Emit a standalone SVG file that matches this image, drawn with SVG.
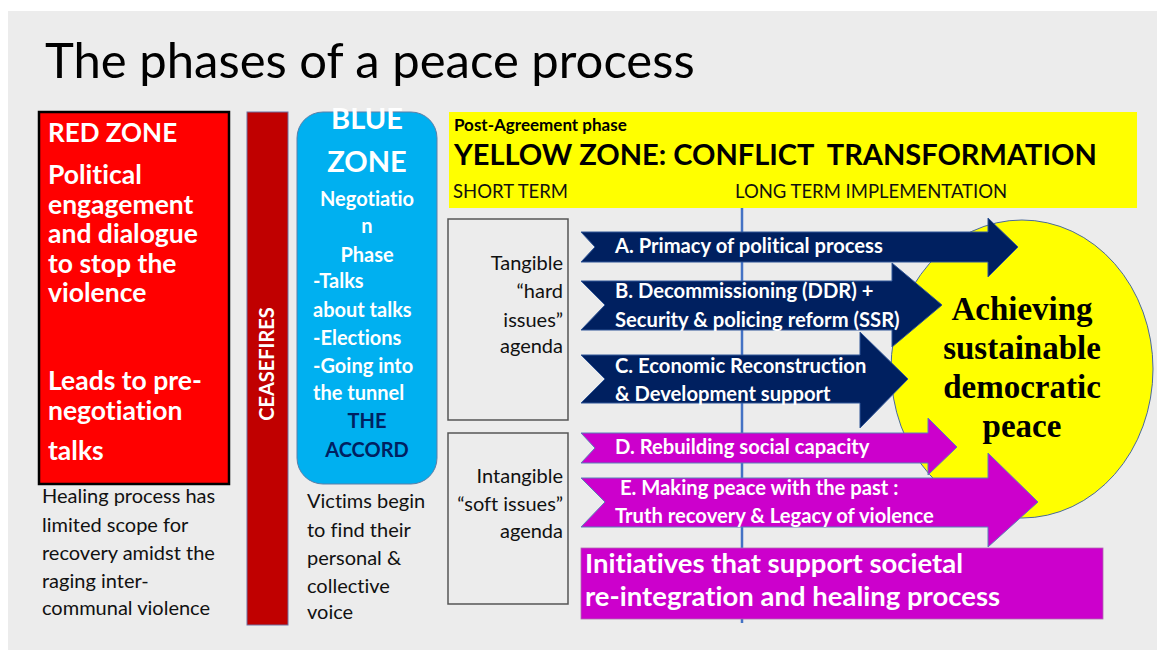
<svg xmlns="http://www.w3.org/2000/svg" width="1165" height="659" viewBox="0 0 1165 659">
<style>
text{font-family:Lato,"Open Sans","DejaVu Sans",sans-serif;font-variant-ligatures:none}
.w{fill:#fff;font-weight:bold}
.rz{font-size:26.5px}
.bz{font-size:20px}
.blk{fill:#111;font-size:20px}
.arr{font-size:20.2px}
.nav{fill:#002060;stroke:#2f5597;stroke-width:1}
.mag{fill:#cc00cc;stroke:#5b7fb8;stroke-width:1}
.circ{font-family:"Liberation Serif","Times New Roman",serif;font-weight:bold;font-size:33px;fill:#000}
</style>
<rect x="0" y="0" width="1165" height="659" fill="#fff"/>
<rect x="8" y="11" width="1149" height="639" fill="#ececec"/>
<text x="45" y="78" font-size="49" fill="#000">The phases of a peace process</text>

<g id="red-zone">
<rect x="39" y="112" width="190" height="372" fill="#ff0000" stroke="#000" stroke-width="2.5"/>
<text class="w" font-size="26" x="48" y="142">RED ZONE</text>
<text class="w rz" x="48" y="184">Political</text>
<text class="w rz" x="48" y="213.5">engagement</text>
<text class="w rz" x="48" y="243">and dialogue</text>
<text class="w rz" x="48" y="272.5">to stop the</text>
<text class="w rz" x="48" y="302">violence</text>
<text class="w rz" x="48" y="390">Leads to pre-</text>
<text class="w rz" x="48" y="420">negotiation</text>
<text class="w rz" x="48" y="460">talks</text>
</g>
<g id="red-note">
<text class="blk" x="42" y="503">Healing process has</text>
<text class="blk" x="42" y="532">limited scope for</text>
<text class="blk" x="42" y="560">recovery amidst the</text>
<text class="blk" x="42" y="588">raging inter-</text>
<text class="blk" x="42" y="615">communal violence</text>
</g>

<g id="ceasefires">
<rect x="247" y="112" width="41" height="513" fill="#c00000" stroke="#6f6f9f" stroke-width="1"/>
<text class="w" font-size="20" text-anchor="middle" transform="translate(274,364) rotate(-90)">CEASEFIRES</text>
</g>

<g id="blue-zone">
<rect x="297" y="112" width="140" height="372" rx="26" ry="26" fill="#00b0f0" stroke="#5b7fa8" stroke-width="1"/>
<text class="w" font-size="29" text-anchor="middle" x="367" y="129">BLUE</text>
<text class="w" font-size="29" text-anchor="middle" x="367" y="172">ZONE</text>
<text class="w bz" text-anchor="middle" x="367" y="206">Negotiatio</text>
<text class="w bz" text-anchor="middle" x="367" y="233">n</text>
<text class="w bz" text-anchor="middle" x="367" y="262">Phase</text>
<text class="w bz" x="313" y="288">-Talks</text>
<text class="w bz" x="313" y="317">about talks</text>
<text class="w bz" x="313" y="345">-Elections</text>
<text class="w bz" x="313" y="373">-Going into</text>
<text class="w bz" x="313" y="400">the tunnel</text>
<text class="bz" font-weight="bold" fill="#002060" text-anchor="middle" x="367" y="428">THE</text>
<text class="bz" font-weight="bold" fill="#002060" text-anchor="middle" x="367" y="457">ACCORD</text>
</g>
<g id="blue-note">
<text class="blk" x="307" y="508">Victims begin</text>
<text class="blk" x="307" y="537">to find their</text>
<text class="blk" x="307" y="565">personal &amp;</text>
<text class="blk" x="307" y="593">collective</text>
<text class="blk" x="307" y="619">voice</text>
</g>

<g id="yellow-zone">
<rect x="449" y="112" width="688" height="96" fill="#ffff00"/>
<text x="454" y="131" font-size="17" font-weight="bold" fill="#000">Post-Agreement phase</text>
<text x="454" y="165" font-size="29" font-weight="bold" fill="#000" xml:space="preserve">YELLOW ZONE: CONFLICT  TRANSFORMATION</text>
<text x="453" y="198" font-size="18.5" fill="#111">SHORT TERM</text>
<text x="735" y="198" font-size="18.5" fill="#111">LONG TERM IMPLEMENTATION</text>
</g>

<g id="connectors">
<line x1="742" y1="208" x2="742" y2="623" stroke="#4472c4" stroke-width="2.5"/>
</g>

<g id="tangible">
<rect x="448" y="219" width="120" height="201" fill="none" stroke="#555" stroke-width="1.5"/>
<text class="blk" text-anchor="end" x="563" y="270">Tangible</text>
<text class="blk" text-anchor="end" x="563" y="298">“hard</text>
<text class="blk" text-anchor="end" x="563" y="327">issues”</text>
<text class="blk" text-anchor="end" x="563" y="353">agenda</text>
</g>
<g id="intangible">
<rect x="448" y="433" width="120" height="171" fill="none" stroke="#555" stroke-width="1.5"/>
<text class="blk" text-anchor="end" x="563" y="483">Intangible</text>
<text class="blk" text-anchor="end" x="563" y="511">“soft issues”</text>
<text class="blk" text-anchor="end" x="563" y="538">agenda</text>
</g>

<g id="goal">
<ellipse cx="1022" cy="369" rx="131" ry="149" fill="#ffff00" stroke="#4a6a9a" stroke-width="1"/>
<text class="circ" text-anchor="middle" x="1022" y="320">Achieving</text>
<text class="circ" text-anchor="middle" x="1022" y="359">sustainable</text>
<text class="circ" text-anchor="middle" x="1022" y="398">democratic</text>
<text class="circ" text-anchor="middle" x="1022" y="437">peace</text>
</g>

<g id="arrow-a">
<path class="nav" d="M581,232 L988,232 L988,218 L1018,247 L988,277 L988,262 L581,262 L595,247 Z"/>
<text class="w arr" x="615" y="253">A. Primacy of political process</text>
</g>
<g id="arrow-b">
<path class="nav" d="M581,281 L892,281 L892,263 L942,305 L892,347 L892,330 L581,330 L605,305 Z"/>
<text class="w arr" x="615" y="298">B. Decommissioning (DDR) +</text>
<text class="w arr" x="615" y="327">Security &amp; policing reform (SSR)</text>
</g>
<g id="arrow-c">
<path class="nav" d="M581,355 L860,355 L860,332 L908,379 L860,428 L860,403 L581,403 L605,379 Z"/>
<text class="w arr" x="615" y="373">C. Economic Reconstruction</text>
<text class="w arr" x="615" y="401">&amp; Development support</text>
</g>
<g id="arrow-d">
<path class="mag" d="M581,433 L928,433 L928,418 L957,447 L928,475 L928,463 L581,463 L595,448 Z"/>
<text class="w arr" x="615" y="454">D. Rebuilding social capacity</text>
</g>
<g id="arrow-e">
<path class="mag" d="M581,478 L988,478 L988,453 L1038,502 L988,547 L988,527 L581,527 L605,502 Z"/>
<text class="w arr" x="620" y="495">E. Making peace with the past :</text>
<text class="w arr" x="615" y="523">Truth recovery &amp; Legacy of violence</text>
</g>

<g id="initiatives">
<rect x="581" y="548" width="522" height="71" fill="#cc00cc" stroke="#b06ab0" stroke-width="0.8"/>
<text class="w" font-size="27.5" x="585" y="573">Initiatives that support societal</text>
<text class="w" font-size="27.5" x="585" y="606">re-integration and healing process</text>
</g>
</svg>
